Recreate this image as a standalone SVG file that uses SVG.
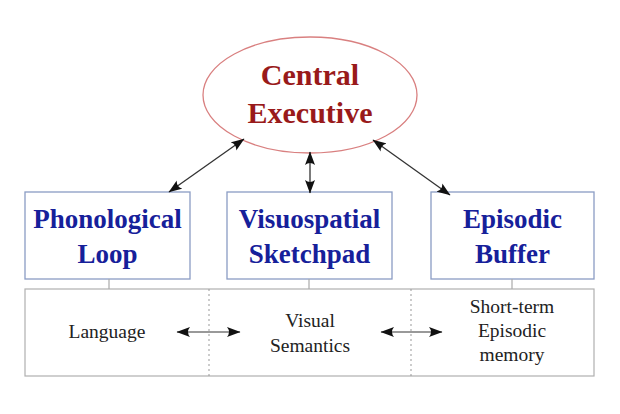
<svg xmlns="http://www.w3.org/2000/svg" width="620" height="414" viewBox="0 0 620 414">
<style>
.box{fill:#fff;stroke:#8a9cc4;stroke-width:1.3}
.h{font-family:"Liberation Serif",serif;font-weight:bold;font-size:27px;fill:#16209a;text-anchor:middle}
.ce{font-family:"Liberation Serif",serif;font-weight:bold;font-size:30px;fill:#991a1a;text-anchor:middle}
.t{font-family:"Liberation Serif",serif;font-size:19.5px;fill:#222;text-anchor:middle}
.arr{stroke:#333;stroke-width:1.3;fill:none;marker-start:url(#ah);marker-end:url(#ah)}
.harr{stroke:#777;stroke-width:1.3;fill:none;marker-start:url(#ah);marker-end:url(#ah)}
.link{stroke:#aaa;stroke-width:1.2}
.dot{stroke:#999;stroke-width:1;stroke-dasharray:2,3}
</style>
<defs>
<marker id="ah" viewBox="0 0 14 11" markerUnits="userSpaceOnUse" markerWidth="14" markerHeight="11" refX="13" refY="5.5" orient="auto-start-reverse">
<path d="M0,0.5 L13.5,5.5 L0,10.5 Q4,5.5 0,0.5 Z" fill="#111"/>
</marker>
</defs>
<rect width="620" height="414" fill="#fff"/>
<g id="memory-strip">
<rect x="25" y="289" width="569" height="87" fill="#fff" stroke="#b0b0b0" stroke-width="1.2"/>
<line class="dot" x1="209" y1="289" x2="209" y2="376"/>
<line class="dot" x1="411" y1="289" x2="411" y2="376"/>
<text class="t" x="107" y="338">Language</text>
<text class="t" x="310" y="327">Visual</text>
<text class="t" x="310" y="352">Semantics</text>
<text class="t" x="512" y="313">Short-term</text>
<text class="t" x="512" y="337">Episodic</text>
<text class="t" x="512" y="361">memory</text>
</g>
<g id="central-executive">
<ellipse cx="310" cy="95" rx="107" ry="58" fill="#fff" stroke="#d98080" stroke-width="1.3"/>
<text class="ce" x="310" y="85">Central</text>
<text class="ce" x="310" y="123">Executive</text>
</g>
<g id="phonological-loop">
<rect class="box" x="25" y="192" width="165" height="87"/>
<text class="h" x="107.5" y="228">Phonological</text>
<text class="h" x="107.5" y="263">Loop</text>
</g>
<g id="visuospatial-sketchpad">
<rect class="box" x="227" y="192" width="165" height="87"/>
<text class="h" x="309.5" y="228">Visuospatial</text>
<text class="h" x="309.5" y="263">Sketchpad</text>
</g>
<g id="episodic-buffer">
<rect class="box" x="431" y="192" width="163" height="87"/>
<text class="h" x="512.5" y="228">Episodic</text>
<text class="h" x="512.5" y="263">Buffer</text>
</g>
<g id="connectors">
<line class="link" x1="109" y1="279" x2="109" y2="289"/>
<line class="link" x1="309" y1="279" x2="309" y2="289"/>
<line class="link" x1="512" y1="279" x2="512" y2="289"/>
<line class="arr" x1="169" y1="192" x2="244" y2="139"/>
<line class="arr" x1="310" y1="152" x2="310" y2="193"/>
<line class="arr" x1="373" y1="140" x2="450" y2="195"/>
<line class="harr" x1="177" y1="332" x2="240" y2="332"/>
<line class="harr" x1="381" y1="332" x2="442" y2="332"/>
</g>
</svg>
